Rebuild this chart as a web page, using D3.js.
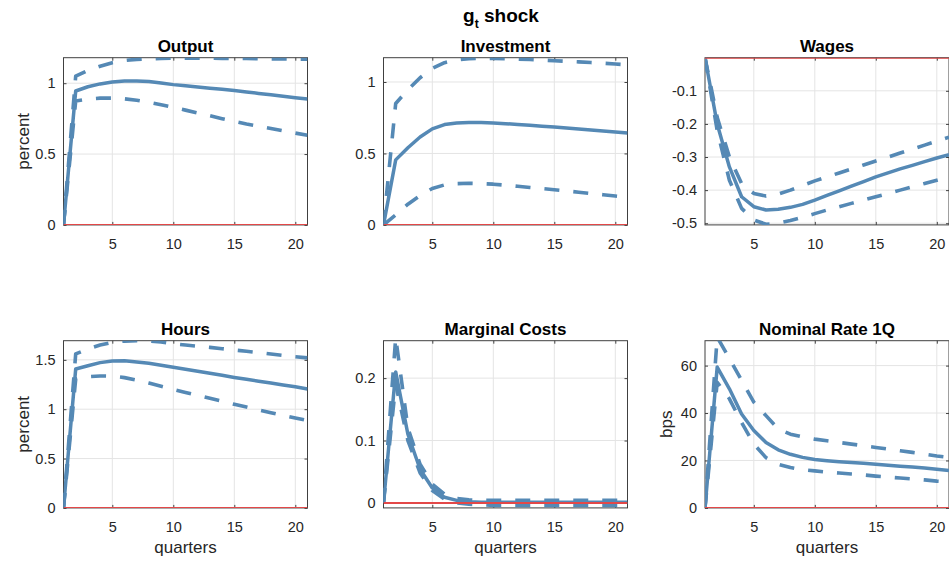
<!DOCTYPE html>
<html>
<head>
<meta charset="utf-8">
<script src="https://cdn.jsdelivr.net/npm/d3@7"></script>
<style>
  html, body { margin: 0; padding: 0; background: #ffffff; }
  svg { display: block; font-family: "Liberation Sans", Arial, Helvetica, sans-serif; }
</style>
</head>
<body>
<svg id="fig" width="949" height="562"></svg>
<script>
// Impulse responses to a government-spending (g_t) shock, quarters 1..21.
// Each variable: median response and the two edges of the credible band.
const quarters = [1, 2, 3, 4, 5, 6, 7, 8, 9, 10, 11, 12, 13, 14, 15, 16, 17, 18, 19, 20, 21];
const xTicks = [5, 10, 15, 20];

const outputMid = [0, 0.945, 0.975, 0.995, 1.008, 1.015, 1.016, 1.012, 1.002, 0.99, 0.982, 0.974, 0.965, 0.957, 0.948, 0.938, 0.928, 0.918, 0.908, 0.898, 0.888];
const outputHi  = [0, 1.05, 1.09, 1.12, 1.145, 1.16, 1.168, 1.172, 1.175, 1.176, 1.176, 1.176, 1.176, 1.175, 1.175, 1.174, 1.173, 1.172, 1.171, 1.17, 1.169];
const outputLo  = [0, 0.875, 0.888, 0.895, 0.895, 0.89, 0.88, 0.865, 0.848, 0.83, 0.81, 0.79, 0.77, 0.75, 0.73, 0.712, 0.696, 0.68, 0.664, 0.648, 0.632];

const investMid = [0, 0.455, 0.54, 0.615, 0.672, 0.702, 0.713, 0.716, 0.716, 0.713, 0.708, 0.703, 0.697, 0.691, 0.685, 0.678, 0.671, 0.664, 0.657, 0.65, 0.643];
const investHi  = [0, 0.85, 0.945, 1.03, 1.095, 1.135, 1.155, 1.163, 1.166, 1.165, 1.163, 1.16, 1.157, 1.153, 1.149, 1.145, 1.141, 1.136, 1.131, 1.126, 1.12];
const investLo  = [0, 0.07, 0.145, 0.205, 0.255, 0.28, 0.289, 0.291, 0.289, 0.285, 0.278, 0.27, 0.262, 0.254, 0.246, 0.238, 0.229, 0.22, 0.211, 0.202, 0.193];

const wagesMid = [0, -0.2, -0.33, -0.42, -0.45, -0.46, -0.458, -0.452, -0.443, -0.43, -0.416, -0.402, -0.388, -0.374, -0.36, -0.348, -0.336, -0.325, -0.314, -0.303, -0.293];
const wagesHi  = [0, -0.18, -0.3, -0.38, -0.41, -0.418, -0.412, -0.4, -0.386, -0.372, -0.36, -0.348, -0.336, -0.324, -0.312, -0.3, -0.288, -0.276, -0.264, -0.252, -0.24];
const wagesLo  = [0, -0.22, -0.37, -0.455, -0.49, -0.503, -0.5, -0.492, -0.482, -0.471, -0.46, -0.45, -0.44, -0.43, -0.42, -0.41, -0.4, -0.39, -0.38, -0.37, -0.36];

const hoursMid = [0, 1.407, 1.44, 1.472, 1.488, 1.49, 1.478, 1.465, 1.446, 1.425, 1.405, 1.385, 1.364, 1.343, 1.322, 1.303, 1.284, 1.265, 1.246, 1.227, 1.205];
const hoursHi  = [0, 1.56, 1.61, 1.65, 1.678, 1.69, 1.695, 1.692, 1.68, 1.662, 1.65, 1.638, 1.626, 1.613, 1.6, 1.587, 1.573, 1.559, 1.545, 1.532, 1.52];
const hoursLo  = [0, 1.305, 1.33, 1.337, 1.335, 1.32, 1.295, 1.265, 1.232, 1.2, 1.17, 1.14, 1.11, 1.08, 1.05, 1.022, 0.993, 0.965, 0.937, 0.91, 0.885];

const mcMid = [0, 0.21, 0.11, 0.054, 0.024, 0.009, 0.004, 0.002, 0.001, 0.001, 0.001, 0.001, 0.001, 0.001, 0.001, 0.001, 0.001, 0.001, 0.001, 0.001, 0.001];
const mcHi  = [0, 0.265, 0.12, 0.062, 0.03, 0.014, 0.007, 0.005, 0.004, 0.004, 0.004, 0.004, 0.004, 0.004, 0.004, 0.004, 0.004, 0.004, 0.004, 0.004, 0.004];
const mcLo  = [0, 0.19, 0.1, 0.048, 0.02, 0.006, 0.0, -0.002, -0.003, -0.004, -0.004, -0.004, -0.004, -0.004, -0.004, -0.004, -0.004, -0.004, -0.004, -0.004, -0.004];

const rateMid = [0, 59.4, 50.2, 39.6, 32.6, 27.6, 24.5, 22.6, 21.3, 20.4, 19.9, 19.5, 19.1, 18.8, 18.4, 18.0, 17.6, 17.2, 16.8, 16.3, 15.8];
const rateHi  = [0, 72, 63, 53.8, 44.6, 38.9, 33.3, 31.1, 29.9, 29, 28.3, 27.6, 26.9, 26.2, 25.5, 24.8, 24.1, 23.4, 22.7, 21.9, 21.3];
const rateLo  = [0, 53, 46, 36, 26.9, 21.2, 18.4, 17, 16.1, 15.6, 15.1, 14.7, 14.3, 13.9, 13.4, 13, 12.6, 12.2, 11.8, 11.3, 11];

const titles = ["Output", "Investment", "Wages", "Hours", "Marginal Costs", "Nominal Rate 1Q"];
const yLabels = ["percent", "", "", "percent", "", "bps"];
const yDomains = [[0, 1.18], [0, 1.17], [-0.505, 0], [0, 1.694], [-0.008, 0.26], [0, 70.5]];
const yTicks = [
  [0, 0.5, 1],
  [0, 0.5, 1],
  [-0.5, -0.4, -0.3, -0.2, -0.1],
  [0, 0.5, 1, 1.5],
  [0, 0.1, 0.2],
  [0, 20, 40, 60]
];
const series = [
  [outputMid, outputHi, outputLo],
  [investMid, investHi, investLo],
  [wagesMid, wagesHi, wagesLo],
  [hoursMid, hoursHi, hoursLo],
  [mcMid, mcHi, mcLo],
  [rateMid, rateHi, rateLo]
];

// Figure styling
const BLUE = "#5589b5";
const RED = "#e34848";
const GRID = "#e4e4e4";
const AXIS = "#404040";
const TEXT = "#262626";

const colLeft = [63.5, 383.5, 705];
const plotW = 244;
const rowTop = [57.7, 340.7];
const plotH = 167.2;

const svg = d3.select("#fig");

// Overall title: g_t shock
const sup = svg.append("text")
  .attr("x", 501).attr("y", 21.5)
  .attr("text-anchor", "middle")
  .attr("font-size", 19).attr("font-weight", "bold").attr("fill", "#000");
sup.append("tspan").text("g");
sup.append("tspan").attr("font-size", 12).attr("dy", 6).text("t");
sup.append("tspan").attr("dy", -6).text(" shock");

titles.forEach((title, i) => {
  const col = i % 3, row = Math.floor(i / 3);
  const x0 = colLeft[col], y0 = rowTop[row];
  const x = d3.scaleLinear().domain([1, 21]).range([0, plotW]);
  const y = d3.scaleLinear().domain(yDomains[i]).range([plotH, 0]);

  const g = svg.append("g").attr("transform", `translate(${x0},${y0})`);

  // grid
  g.append("g").selectAll("line").data(xTicks).join("line")
    .attr("x1", d => x(d)).attr("x2", d => x(d))
    .attr("y1", 0).attr("y2", plotH)
    .attr("stroke", GRID).attr("stroke-width", 1);
  g.append("g").selectAll("line").data(yTicks[i]).join("line")
    .attr("x1", 0).attr("x2", plotW)
    .attr("y1", d => y(d)).attr("y2", d => y(d))
    .attr("stroke", GRID).attr("stroke-width", 1);

  // box
  g.append("rect").attr("x", 0).attr("y", 0).attr("width", plotW).attr("height", plotH)
    .attr("fill", "none").attr("stroke", AXIS).attr("stroke-width", 1);

  // axes with inward ticks on all four sides
  const styleAxis = sel => {
    sel.select(".domain").remove();
    sel.selectAll(".tick line").attr("stroke", AXIS);
    sel.selectAll(".tick text").attr("fill", TEXT).attr("font-size", 14.5)
      .attr("font-family", '"Liberation Sans", Arial, sans-serif');
  };
  g.append("g").attr("transform", `translate(0,${plotH})`)
    .call(d3.axisBottom(x).tickValues(xTicks).tickSizeInner(-3).tickSizeOuter(0).tickPadding(13.5).tickFormat(d3.format("d")))
    .call(styleAxis);
  g.append("g")
    .call(d3.axisTop(x).tickValues(xTicks).tickSizeInner(-3).tickSizeOuter(0).tickFormat(""))
    .call(styleAxis);
  g.append("g")
    .call(d3.axisLeft(y).tickValues(yTicks[i]).tickSizeInner(-3).tickSizeOuter(0).tickPadding(8).tickFormat(d => String(d)))
    .call(styleAxis);
  g.append("g").attr("transform", `translate(${plotW},0)`)
    .call(d3.axisRight(y).tickValues(yTicks[i]).tickSizeInner(-3).tickSizeOuter(0).tickFormat(""))
    .call(styleAxis);

  // clipping to the plot area
  const clipId = "clip" + i;
  g.append("clipPath").attr("id", clipId)
    .append("rect").attr("x", 0).attr("y", 0).attr("width", plotW).attr("height", plotH);
  const plot = g.append("g").attr("clip-path", `url(#${clipId})`);

  const line = d3.line().x((d, k) => x(quarters[k])).y(d => y(d));
  const [mid, hi, lo] = series[i];

  [hi, lo].forEach(band => {
    plot.append("path").datum(band).attr("d", line)
      .attr("fill", "none").attr("stroke", BLUE).attr("stroke-width", 3.6)
      .attr("stroke-dasharray", "15,14").attr("stroke-linejoin", "round");
  });
  plot.append("path").datum(mid).attr("d", line)
    .attr("fill", "none").attr("stroke", BLUE).attr("stroke-width", 3.5)
    .attr("stroke-linejoin", "round");

  // zero line
  plot.append("line")
    .attr("x1", x(1)).attr("x2", x(21))
    .attr("y1", y(0)).attr("y2", y(0))
    .attr("stroke", RED).attr("stroke-width", 2);

  // panel title
  g.append("text").attr("x", plotW / 2).attr("y", -5.5)
    .attr("text-anchor", "middle").attr("font-size", 17).attr("font-weight", "bold")
    .attr("fill", "#000").text(title);

  // y label
  if (yLabels[i]) {
    const lx = col === 0 ? 28.5 - x0 : 671.7 - x0;
    g.append("text")
      .attr("transform", `translate(${lx},${plotH / 2}) rotate(-90)`)
      .attr("text-anchor", "middle").attr("font-size", 17).attr("fill", TEXT)
      .text(yLabels[i]);
  }

  // x label on the bottom row
  if (row === 1) {
    g.append("text").attr("x", plotW / 2).attr("y", 553 - y0)
      .attr("text-anchor", "middle").attr("font-size", 17).attr("fill", TEXT)
      .text("quarters");
  }
});
</script>
</body>
</html>
